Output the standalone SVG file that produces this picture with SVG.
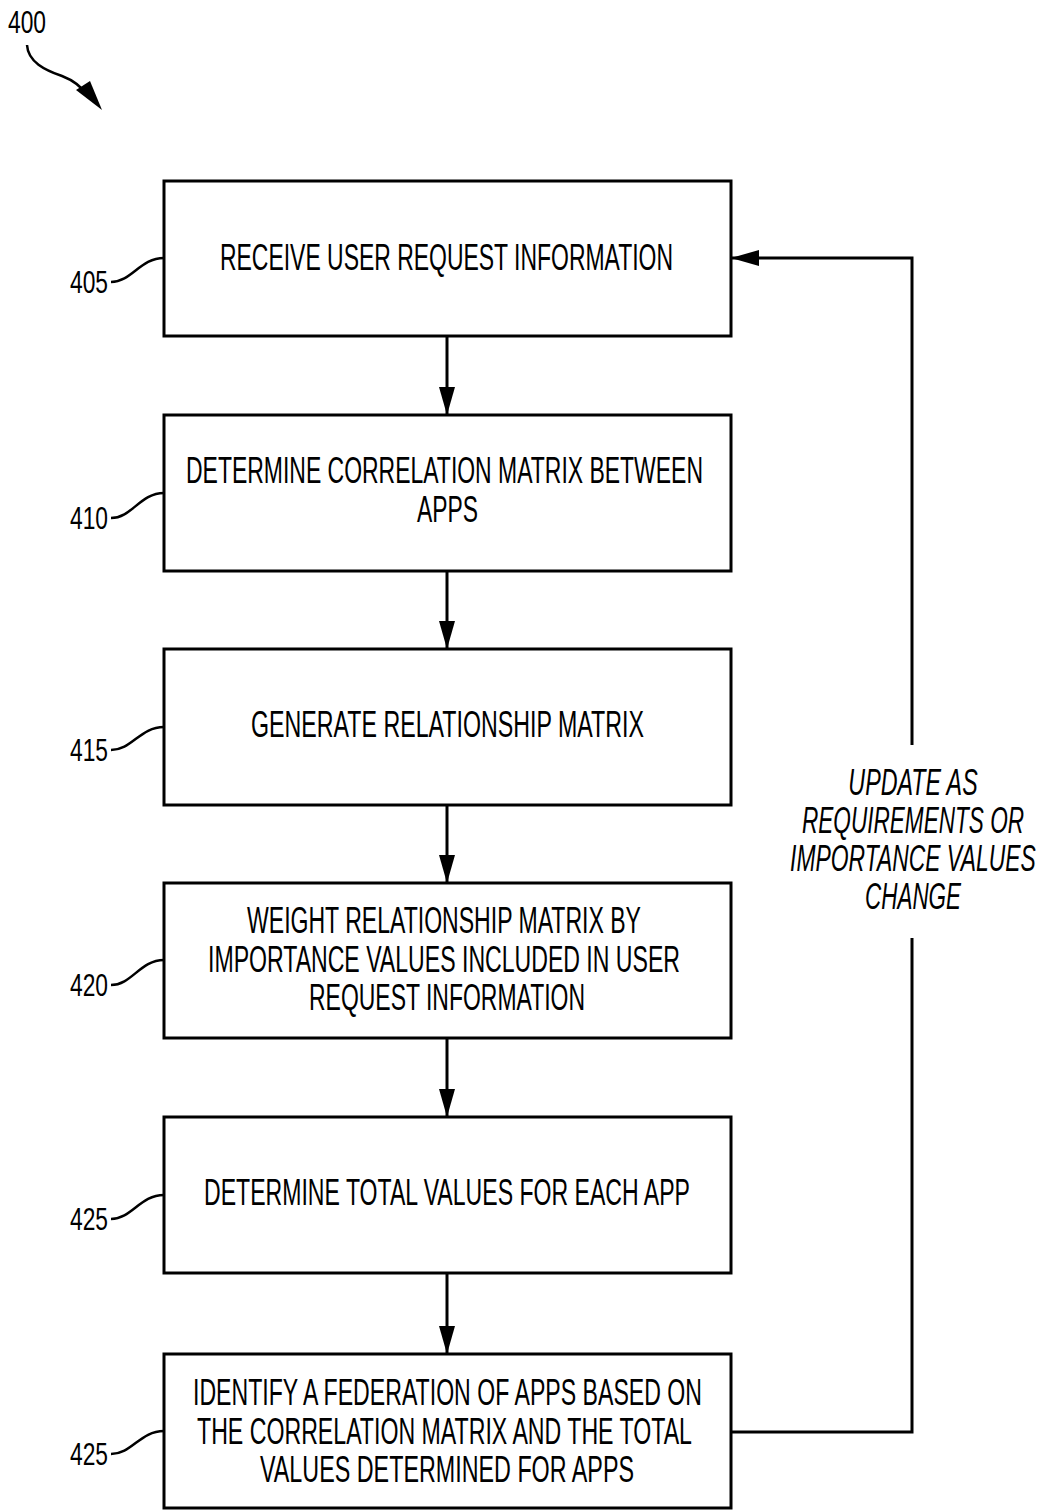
<svg xmlns="http://www.w3.org/2000/svg" width="1039" height="1510" viewBox="0 0 1039 1510">
<style>
.box{fill:#fff;stroke:#000;stroke-width:3}
.t{font-family:"Liberation Sans",Arial,sans-serif;font-size:36px;fill:#000}
.lb{font-family:"Liberation Sans",Arial,sans-serif;font-size:32px;fill:#000}
.it{font-family:"Liberation Sans",Arial,sans-serif;font-size:36px;font-style:italic;fill:#000;text-anchor:middle}
.ln{fill:none;stroke:#000;stroke-width:3}
.sq{fill:none;stroke:#000;stroke-width:2.5}
</style>
<defs>
<marker id="ah" markerUnits="userSpaceOnUse" markerWidth="28" markerHeight="16" refX="27" refY="8" orient="auto">
<path d="M0,0 L28,8 L0,16 Z" fill="#000"/>
</marker>
</defs>
<g id="fig-label">
<text class="lb" x="8" y="33" textLength="38" lengthAdjust="spacingAndGlyphs">400</text>
<path class="sq" d="M27,45 C28,62 45,70 62,76 C75,81 82,87 88,96"/>
<path d="M76,90 L90,81 L102,110 Z" fill="#000"/>
</g>
<g id="n405">
<rect class="box" x="164" y="181" width="567" height="155"/>
<text class="t" x="220" y="270" textLength="453" lengthAdjust="spacingAndGlyphs">RECEIVE USER REQUEST INFORMATION</text>
<text class="lb" x="70" y="293" textLength="38" lengthAdjust="spacingAndGlyphs">405</text>
<path class="sq" d="M111,282 C132,282 140,258 164,258"/>
</g>
<g id="n410">
<rect class="box" x="164" y="415" width="567" height="156"/>
<text class="t" x="186" y="483" textLength="517" lengthAdjust="spacingAndGlyphs">DETERMINE CORRELATION MATRIX BETWEEN</text>
<text class="t" x="417" y="522" textLength="61" lengthAdjust="spacingAndGlyphs">APPS</text>
<text class="lb" x="70" y="529" textLength="38" lengthAdjust="spacingAndGlyphs">410</text>
<path class="sq" d="M111,518 C132,518 140,493 164,493"/>
</g>
<g id="n415">
<rect class="box" x="164" y="649" width="567" height="156"/>
<text class="t" x="251" y="737" textLength="393" lengthAdjust="spacingAndGlyphs">GENERATE RELATIONSHIP MATRIX</text>
<text class="lb" x="70" y="761" textLength="38" lengthAdjust="spacingAndGlyphs">415</text>
<path class="sq" d="M111,750 C132,750 140,727 164,727"/>
</g>
<g id="n420">
<rect class="box" x="164" y="883" width="567" height="155"/>
<text class="t" x="247" y="933" textLength="394" lengthAdjust="spacingAndGlyphs">WEIGHT RELATIONSHIP MATRIX BY</text>
<text class="t" x="208" y="972" textLength="472" lengthAdjust="spacingAndGlyphs">IMPORTANCE VALUES INCLUDED IN USER</text>
<text class="t" x="309" y="1010" textLength="276" lengthAdjust="spacingAndGlyphs">REQUEST INFORMATION</text>
<text class="lb" x="70" y="996" textLength="38" lengthAdjust="spacingAndGlyphs">420</text>
<path class="sq" d="M111,985 C132,985 140,960 164,960"/>
</g>
<g id="n425a">
<rect class="box" x="164" y="1117" width="567" height="156"/>
<text class="t" x="204" y="1205" textLength="486" lengthAdjust="spacingAndGlyphs">DETERMINE TOTAL VALUES FOR EACH APP</text>
<text class="lb" x="70" y="1230" textLength="38" lengthAdjust="spacingAndGlyphs">425</text>
<path class="sq" d="M111,1219 C132,1219 140,1195 164,1195"/>
</g>
<g id="n425b">
<rect class="box" x="164" y="1354" width="567" height="154"/>
<text class="t" x="193" y="1405" textLength="509" lengthAdjust="spacingAndGlyphs">IDENTIFY A FEDERATION OF APPS BASED ON</text>
<text class="t" x="197" y="1444" textLength="495" lengthAdjust="spacingAndGlyphs">THE CORRELATION MATRIX AND THE TOTAL</text>
<text class="t" x="260" y="1482" textLength="374" lengthAdjust="spacingAndGlyphs">VALUES DETERMINED FOR  APPS</text>
<text class="lb" x="70" y="1465" textLength="38" lengthAdjust="spacingAndGlyphs">425</text>
<path class="sq" d="M111,1454 C132,1454 140,1431 164,1431"/>
</g>
<g id="connectors">
<line class="ln" x1="447" y1="336" x2="447" y2="414" marker-end="url(#ah)"/>
<line class="ln" x1="447" y1="571" x2="447" y2="648" marker-end="url(#ah)"/>
<line class="ln" x1="447" y1="805" x2="447" y2="882" marker-end="url(#ah)"/>
<line class="ln" x1="447" y1="1038" x2="447" y2="1116" marker-end="url(#ah)"/>
<line class="ln" x1="447" y1="1273" x2="447" y2="1353" marker-end="url(#ah)"/>
<polyline class="ln" points="731,1432 912,1432 912,938"/>
<polyline class="ln" points="912,745 912,258 732,258" marker-end="url(#ah)"/>
</g>
<g id="loop-label" transform="translate(913,0) scale(0.64,1)">
<text class="it" x="0" y="795" textLength="202" lengthAdjust="spacingAndGlyphs">UPDATE AS</text>
<text class="it" x="0" y="833" textLength="347" lengthAdjust="spacingAndGlyphs">REQUIREMENTS OR</text>
<text class="it" x="0" y="871" textLength="384" lengthAdjust="spacingAndGlyphs">IMPORTANCE VALUES</text>
<text class="it" x="0" y="909" textLength="150" lengthAdjust="spacingAndGlyphs">CHANGE</text>
</g>
</svg>
